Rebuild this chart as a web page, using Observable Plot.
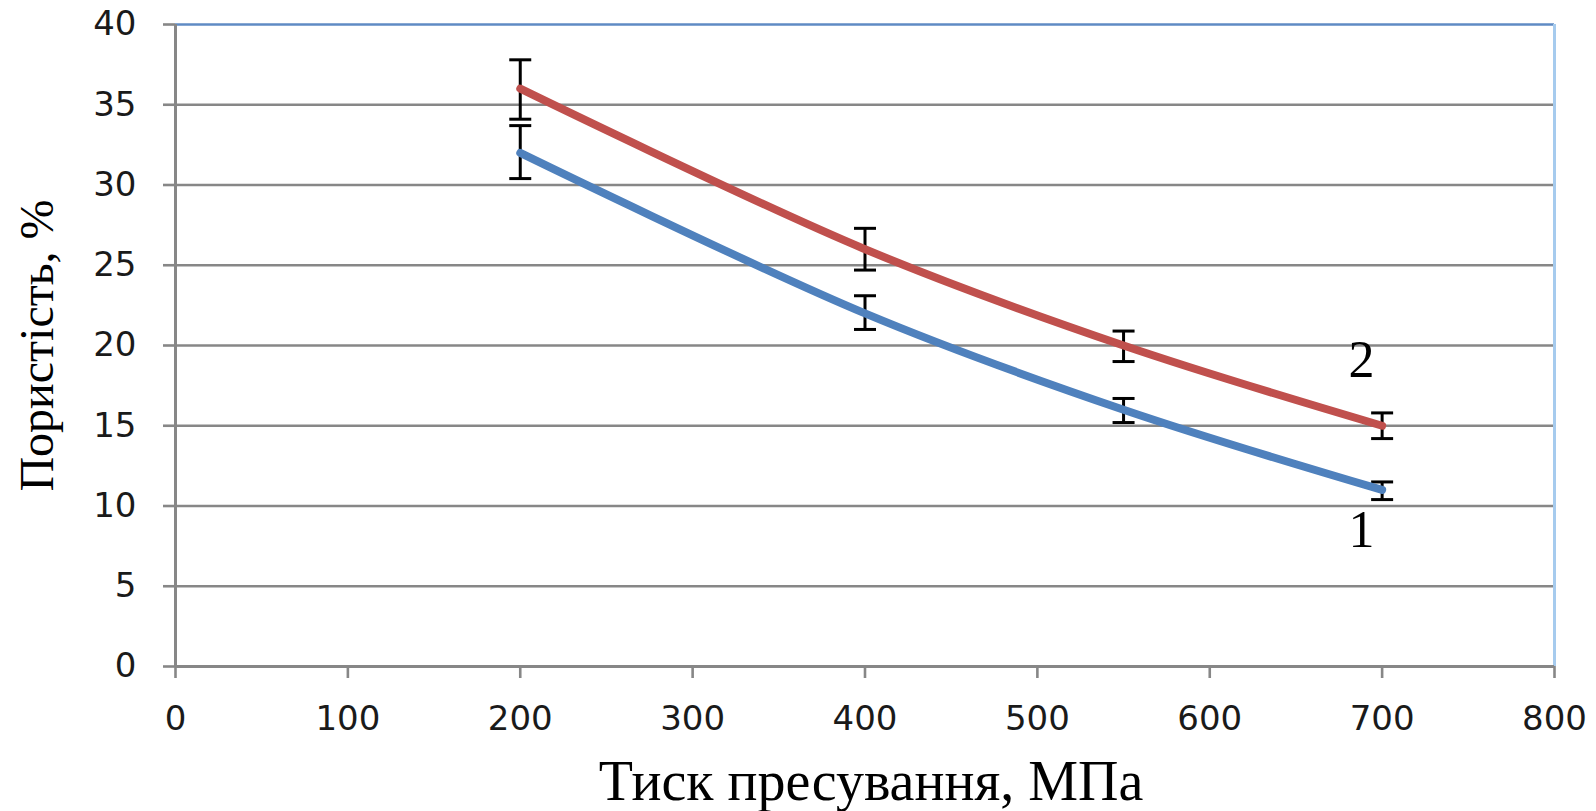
<!DOCTYPE html>
<html>
<head>
<meta charset="utf-8">
<script src="https://cdn.jsdelivr.net/npm/d3@7"></script>
<script src="https://cdn.jsdelivr.net/npm/@observablehq/plot@0.6"></script>
<style>
  html, body { margin: 0; padding: 0; background: #fff; }
</style>
</head>
<body>
<div id="chart"></div>
<script>
// ---- data ----
const pressure = [200, 400, 550, 700];            // МПа
const porosity1 = [32, 22, 16, 11];                // curve 1 (blue), %
const porosity2 = [36, 26, 20, 15];                // curve 2 (red), %
const err1Low  = [30.4, 21.0, 15.2, 10.4];
const err1High = [33.7, 23.1, 16.7, 11.5];
const err2Low  = [34.1, 24.7, 19.0, 14.2];
const err2High = [37.8, 27.3, 20.9, 15.8];
const xTicks = [0, 100, 200, 300, 400, 500, 600, 700, 800];
const yTicks = [0, 5, 10, 15, 20, 25, 30, 35, 40];
const curveNames = ["1", "2"];
const curveLabelX = [688, 688];
const curveLabelY = [8.5, 19.1];
const xTitle = "Тиск пресування, МПа";
const yTitle = "Пористість, %";

const series1 = pressure.map((p, i) => ({p, v: porosity1[i], lo: err1Low[i], hi: err1High[i]}));
const series2 = pressure.map((p, i) => ({p, v: porosity2[i], lo: err2Low[i], hi: err2High[i]}));
const errs = [...series1, ...series2];
const curveLabels = curveNames.map((n, i) => ({n, x: curveLabelX[i], y: curveLabelY[i]}));

const capSymbol = {
  draw(ctx, size) {
    const r = Math.sqrt(size / Math.PI);
    ctx.moveTo(-r, 0);
    ctx.lineTo(r, 0);
  }
};

const gridColor = "#878787";

const chart = Plot.plot({
  width: 1596,
  height: 811,
  marginLeft: 175,
  marginRight: 42,
  marginTop: 24,
  marginBottom: 145,
  style: {fontFamily: "DejaVu Sans", fontSize: "34px", color: "#1a1a1a", background: "#fff"},
  x: {domain: [0, 800]},
  y: {domain: [0, 40]},
  marks: [
    // gridlines
    Plot.ruleY(yTicks.filter(t => t > 0 && t < 40), {stroke: gridColor, strokeWidth: 2.6}),
    // plot-area border (top, right)
    Plot.ruleY([40], {stroke: "#5f8bc4", strokeWidth: 2.6}),
    Plot.ruleX([800], {stroke: "#a6cbee", strokeWidth: 3}),
    // axes
    Plot.axisY({ticks: yTicks, tickSize: 12, tickPadding: 27, fontSize: 34, stroke: gridColor, strokeWidth: 2.6, fill: "#1a1a1a", label: null}),
    Plot.axisX({ticks: xTicks, tickSize: 12, tickPadding: 27, fontSize: 34, stroke: gridColor, strokeWidth: 2.6, fill: "#1a1a1a", label: null}),
    Plot.ruleX([0], {stroke: gridColor, strokeWidth: 3}),
    Plot.ruleY([0], {stroke: gridColor, strokeWidth: 3}),
    // error bars
    Plot.ruleX(errs, {x: "p", y1: "lo", y2: "hi", stroke: "#000", strokeWidth: 3}),
    Plot.dot(errs, {x: "p", y: "lo", symbol: capSymbol, r: 11, stroke: "#000", strokeWidth: 3}),
    Plot.dot(errs, {x: "p", y: "hi", symbol: capSymbol, r: 11, stroke: "#000", strokeWidth: 3}),
    // curves
    Plot.line(series1, {x: "p", y: "v", stroke: "#4f81bd", strokeWidth: 8, curve: "catmull-rom", strokeLinecap: "round"}),
    Plot.line(series2, {x: "p", y: "v", stroke: "#c0504d", strokeWidth: 8, curve: "catmull-rom", strokeLinecap: "round"}),
    // curve labels
    Plot.text(curveLabels, {x: "x", y: "y", text: "n", fontFamily: "Liberation Serif", fontSize: 52, fill: "#000"}),
    // axis titles
    Plot.text([yTitle], {frameAnchor: "left", textAnchor: "middle", dx: -138, rotate: -90, fontFamily: "Liberation Serif", fontSize: 48, fill: "#000"}),
    Plot.text([xTitle], {frameAnchor: "bottom", textAnchor: "middle", dx: 6, dy: 133, fontFamily: "Liberation Serif", fontSize: 56, fill: "#000"})
  ]
});

document.getElementById("chart").appendChild(chart);
</script>
</body>
</html>
